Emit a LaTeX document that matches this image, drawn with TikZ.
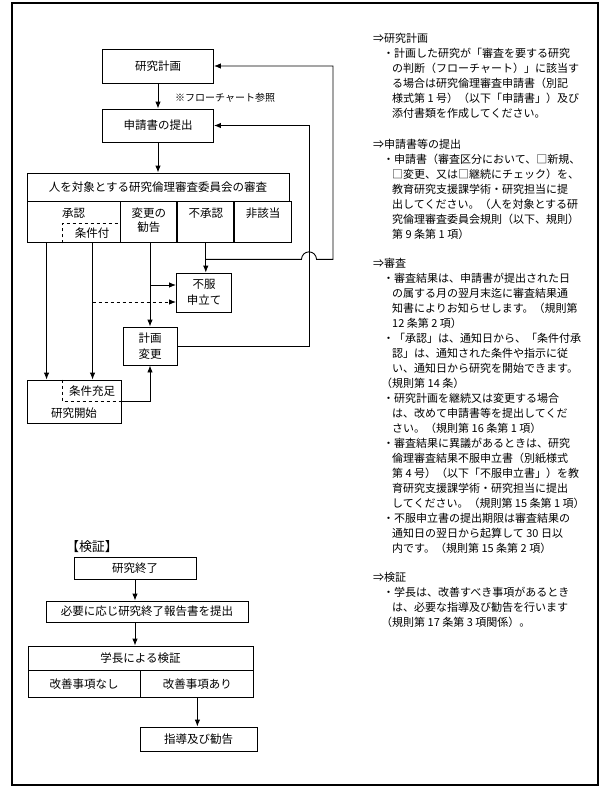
\documentclass[tikz,border=0pt]{standalone}
\usepackage{fontspec}
\setmainfont{Noto Sans CJK JP}
\usetikzlibrary{arrows.meta,calc,positioning}

\tikzset{
  box/.style={draw, line width=0.9pt, inner sep=0pt, align=center,
    font=\fontsize{11.5}{16.5}\selectfont},
  cell/.style={box, anchor=north west, minimum height=41},
  lbl/.style={inner sep=0pt, align=center, font=\fontsize{11.5}{14}\selectfont},
  flow/.style={line width=0.9pt, -{Latex[length=7pt,width=5.5pt]}},
  memo/.style={anchor=north west, inner sep=0pt, align=left,
    font=\fontsize{11}{15}\selectfont},
}

\begin{document}
\begin{tikzpicture}[x=1pt,y=-1pt]
        \useasboundingbox (0,0) rectangle (600,807);
        %% Frame
        \draw[line width=1.4pt] (12,3) rectangle (598,785);
        %% Plan and application
        \node[box, minimum width=111, minimum height=34] (plan) at (158,66) {研究計画};
        \node[box, minimum width=111, minimum height=33] (apply) at (158,125.5) {申請書の提出};
        \node[lbl, anchor=west, font=\fontsize{10}{12}\selectfont] (chart) at (175,98) {※フローチャート参照};
        \draw[flow] (plan) -- (apply);
        %% Review board
        \node[box, minimum width=262, minimum height=28] (board) at (158,187) {人を対象とする研究倫理審査委員会の審査};
        \node[cell, minimum width=93] (ok) at (board.south west) {};
        \node[cell, minimum width=56] (advice) at (ok.north east) {};
        \node[cell, minimum width=56] (reject) at (advice.north east) {};
        \node[cell, minimum width=57] (none) at (reject.north east) {};
        \node[lbl] (okl) at ($(ok.north)+(0,12)$) {承認};
        \node[lbl] (advicel) at ($(advice.north)+(0,19)$) {変更の\\勧告};
        \node[lbl] (rejectl) at ($(reject.north)+(0,12)$) {不承認};
        \node[lbl] (nonel) at ($(none.north)+(0,12)$) {非該当};
        \node[lbl] (condl) at (92,233) {条件付};
        \draw[dashed] ([xshift=36pt]ok.south west) |- ([yshift=-22pt]ok.north east);
        \draw[flow] (apply) -- (board);
        %% Results
        \node[box, minimum width=55, minimum height=39] (appeal) at (204,292.5) {不服\\申立て};
        \node[box, minimum width=54, minimum height=38] (revise) at (150,346) {計画\\変更};
        \node[box, minimum width=94, minimum height=43] (start) at (74,401.5) {};
        \node[lbl] (metl) at (92,391) {条件充足};
        \node[lbl] (startl) at (74,413) {研究開始};
        \draw[dashed] ([xshift=36pt]start.north west) |- (start.east);
        \coordinate (tail1) at ([xshift=20pt]ok.south west);
        \coordinate (tail2) at ([xshift=66pt]ok.south west);
        \coordinate (hi) at ([yshift=7.5pt]appeal.west);
        \coordinate (lo) at ([yshift=-9.5pt]appeal.west);
        \draw[flow] (tail1) -- (tail1 |- start.north);
        \draw[flow] (tail2) -- (tail2 |- start.north);
        \draw[flow] (revise.north |- advice.south) -- (revise.north);
        \draw[flow] (reject.south) -- (reject.south |- appeal.north);
        \draw[flow] (revise.north |- hi) -- (hi);
        \draw[flow, dashed] (tail2 |- lo) -- (lo);
        \draw[flow] (start.east) -| (revise.south);
        %% Loops back
        \coordinate (loopa) at (309,0);
        \coordinate (loopb) at (333,0);
        \coordinate (fork) at ([yshift=-16pt]reject.south);
        \draw[flow] (revise.east) -| (loopa |- apply.east) -- (apply.east);
        \draw[flow] (fork) -- ($(fork -| loopa)+(-7.5,0)$)
            arc[start angle=180, end angle=0, radius=7.5pt] -- (fork -| loopb) |- (plan.east);
        %% Verification
        \node[lbl, font=\fontsize{13}{15}\selectfont] (verify) at (92,547) {【検証】};
        \node[box, minimum width=122, minimum height=22] (finish) at (135,568) {研究終了};
        \node[box, minimum width=202, minimum height=21] (report) at (147,611.5) {必要に応じ研究終了報告書を提出};
        \node[box, minimum width=225, minimum height=24] (pres) at (140.5,658) {学長による検証};
        \node[cell, minimum width=112, minimum height=27] (noissue) at (pres.south west) {改善事項なし};
        \node[cell, minimum width=113, minimum height=27] (issue) at (noissue.north east) {改善事項あり};
        \node[box, minimum width=117, minimum height=24] (guide) at (198.5,739) {指導及び勧告};
        \draw[flow] (finish.south) -- (finish.south |- report.north);
        \draw[flow] (finish.south |- report.south) -- (finish.south |- pres.north);
        \draw[flow] (issue.south) -- (issue.south |- guide.north);
        %% Notes
        \node[memo] (memoplan) at (373,33.5) {⇒研究計画\\
            \hspace*{10pt}・計画した研究が「審査を要する研究\\
            \hspace*{19pt}の判断（フローチャート）」に該当す\\
            \hspace*{19pt}る場合は研究倫理審査申請書（別記\\
            \hspace*{19pt}様式第 1 号）（以下「申請書」）及び\\
            \hspace*{19pt}添付書類を作成してください。};
        \node[memo] (memoapply) at (373,138.5) {⇒申請書等の提出\\
            \hspace*{10pt}・申請書（審査区分において、□新規、\\
            \hspace*{19pt}□変更、又は□継続にチェック）を、\\
            \hspace*{19pt}教育研究支援課学術・研究担当に提\\
            \hspace*{19pt}出してください。（人を対象とする研\\
            \hspace*{19pt}究倫理審査委員会規則（以下、規則）\\
            \hspace*{19pt}第 9 条第 1 項）};
        \node[memo] (memoreview) at (373,258.5) {⇒審査\\
            \hspace*{10pt}・審査結果は、申請書が提出された日\\
            \hspace*{19pt}の属する月の翌月末迄に審査結果通\\
            \hspace*{19pt}知書によりお知らせします。（規則第\\
            \hspace*{19pt}12 条第 2 項）\\
            \hspace*{10pt}・「承認」は、通知日から、「条件付承\\
            \hspace*{19pt}認」は、通知された条件や指示に従\\
            \hspace*{19pt}い、通知日から研究を開始できます。\\
            \hspace*{8pt}（規則第 14 条）\\
            \hspace*{10pt}・研究計画を継続又は変更する場合\\
            \hspace*{19pt}は、改めて申請書等を提出してくだ\\
            \hspace*{19pt}さい。（規則第 16 条第 1 項）\\
            \hspace*{10pt}・審査結果に異議があるときは、研究\\
            \hspace*{19pt}倫理審査結果不服申立書（別紙様式\\
            \hspace*{19pt}第 4 号）（以下「不服申立書」）を教\\
            \hspace*{19pt}育研究支援課学術・研究担当に提出\\
            \hspace*{19pt}してください。（規則第 15 条第 1 項）\\
            \hspace*{10pt}・不服申立書の提出期限は審査結果の\\
            \hspace*{19pt}通知日の翌日から起算して 30 日以\\
            \hspace*{19pt}内です。（規則第 15 条第 2 項）};
        \node[memo] (memocheck) at (373,572) {⇒検証\\
            \hspace*{10pt}・学長は、改善すべき事項があるとき\\
            \hspace*{19pt}は、必要な指導及び勧告を行います\\
            \hspace*{8pt}（規則第 17 条第 3 項関係）。};
\end{tikzpicture}
\end{document}
